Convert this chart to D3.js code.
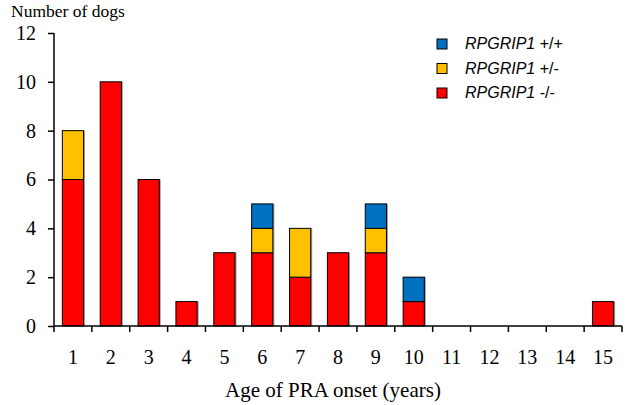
<!DOCTYPE html>
<html>
<head>
<meta charset="utf-8">
<script src="https://cdn.jsdelivr.net/npm/d3@7"></script>
<style>
  body { margin: 0; background: #fff; }
  svg { display: block; }
</style>
</head>
<body>
<div id="chart-area"></div>
<script>
// data
let ages = [1, 2, 3, 4, 5, 6, 7, 8, 9, 10, 11, 12, 13, 14, 15];
let homMutant = [6, 10, 6, 1, 3, 3, 2, 3, 3, 1, 0, 0, 0, 0, 1];   // -/-
let hetero    = [2, 0, 0, 0, 0, 1, 2, 0, 1, 0, 0, 0, 0, 0, 0];   // +/-
let homWild   = [0, 0, 0, 0, 0, 1, 0, 0, 1, 1, 0, 0, 0, 0, 0];   // +/+
let yTicks = [0, 2, 4, 6, 8, 10, 12];
let seriesKeys = ["mm", "het", "wt"];
let seriesLabels = { wt: "+/+", het: "+/-", mm: "-/-" };
let colors = { mm: "#ff0000", het: "#ffc000", wt: "#0070c0" };

let rows = ages.map((a, i) => ({ age: a, mm: homMutant[i], het: hetero[i], wt: homWild[i] }));

let width = 632, height = 405;
let margin = { left: 54, right: 10, top: 33, bottom: 79 };

let svg = d3.select("#chart-area").append("svg")
  .attr("width", width)
  .attr("height", height);

let x = d3.scaleBand()
  .domain(ages)
  .range([margin.left, 622])
  .paddingInner(0.44)
  .paddingOuter(0.22);

let y = d3.scaleLinear()
  .domain([0, 12])
  .range([height - margin.bottom, margin.top]);

let stack = d3.stack().keys(seriesKeys);
let layers = stack(rows);

// bars
let g = svg.append("g");
layers.forEach(function(layer){
  let key = layer.key;
  layer.forEach(function(d){
    let h = y(d[0]) - y(d[1]);
    if (h <= 0) return;
    g.append("rect")
      .attr("x", x(d.data.age) + 1.5)
      .attr("y", y(d[1]))
      .attr("width", x.bandwidth())
      .attr("height", h)
      .attr("fill", "#a0a0a0");
    g.append("rect")
      .attr("x", x(d.data.age))
      .attr("y", y(d[1]))
      .attr("width", x.bandwidth())
      .attr("height", h)
      .attr("fill", colors[key])
      .attr("stroke", "#000")
      .attr("stroke-width", 1);
  });
});

// y axis
let yAxis = d3.axisLeft(y)
  .tickValues(yTicks)
  .tickSize(6)
  .tickPadding(12);

let yAxisGroup = svg.append("g")
  .attr("transform", "translate(" + margin.left + ",0)")
  .call(yAxis);
yAxisGroup.select(".domain").attr("d", "M0," + y(12) + "V" + y(0)).attr("stroke-width", 1.5);
yAxisGroup.selectAll(".tick line").attr("stroke-width", 1.5);
yAxisGroup.selectAll("text")
  .attr("font-family", "Liberation Serif, Times New Roman, serif")
  .attr("font-size", "20px")
  .attr("fill", "#000");

// x axis: ticks sit between the categories
let step = x.step();
let boundaries = ages.map(a => x(a) - step * x.paddingInner() / 2);
boundaries.push(x(ages[ages.length - 1]) + x.bandwidth() + step * x.paddingInner() / 2);

let xg = svg.append("g");
xg.append("line")
  .attr("x1", margin.left).attr("x2", boundaries[boundaries.length - 1])
  .attr("y1", y(0)).attr("y2", y(0))
  .attr("stroke", "#000").attr("stroke-width", 1.5);
xg.selectAll(".xt")
  .data(boundaries)
  .enter().append("line")
  .attr("x1", d => d).attr("x2", d => d)
  .attr("y1", y(0)).attr("y2", y(0) + 6)
  .attr("stroke", "#000").attr("stroke-width", 1.5);
xg.selectAll(".xl")
  .data(ages)
  .enter().append("text")
  .attr("x", d => x(d) + x.bandwidth() / 2)
  .attr("y", 364)
  .attr("text-anchor", "middle")
  .attr("font-family", "Liberation Serif, Times New Roman, serif")
  .attr("font-size", "20px")
  .text(d => d);

// axis titles
svg.append("text")
  .attr("x", 11)
  .attr("y", 17)
  .attr("font-family", "Liberation Serif, Times New Roman, serif")
  .attr("font-size", "17.5px")
  .text("Number of dogs");

svg.append("text")
  .attr("x", 333)
  .attr("y", 397)
  .attr("text-anchor", "middle")
  .attr("font-family", "Liberation Serif, Times New Roman, serif")
  .attr("font-size", "21px")
  .text("Age of PRA onset (years)");

// legend
let legendOrder = ["wt", "het", "mm"];
let legend = svg.append("g")
  .attr("transform", "translate(437, 39)");
legendOrder.forEach(function(key, i){
  let row = legend.append("g")
    .attr("transform", "translate(0," + (i * 24.5) + ")");
  row.append("rect")
    .attr("width", 10)
    .attr("height", 10)
    .attr("fill", colors[key])
    .attr("stroke", "#000");
  let t = row.append("text")
    .attr("x", 28)
    .attr("y", 10)
    .attr("font-family", "Liberation Sans, Arial, sans-serif")
    .attr("font-size", "16px");
  t.append("tspan").attr("font-style", "italic").text("RPGRIP1");
  t.append("tspan").text(" " + seriesLabels[key]);
});
</script>
</body>
</html>
